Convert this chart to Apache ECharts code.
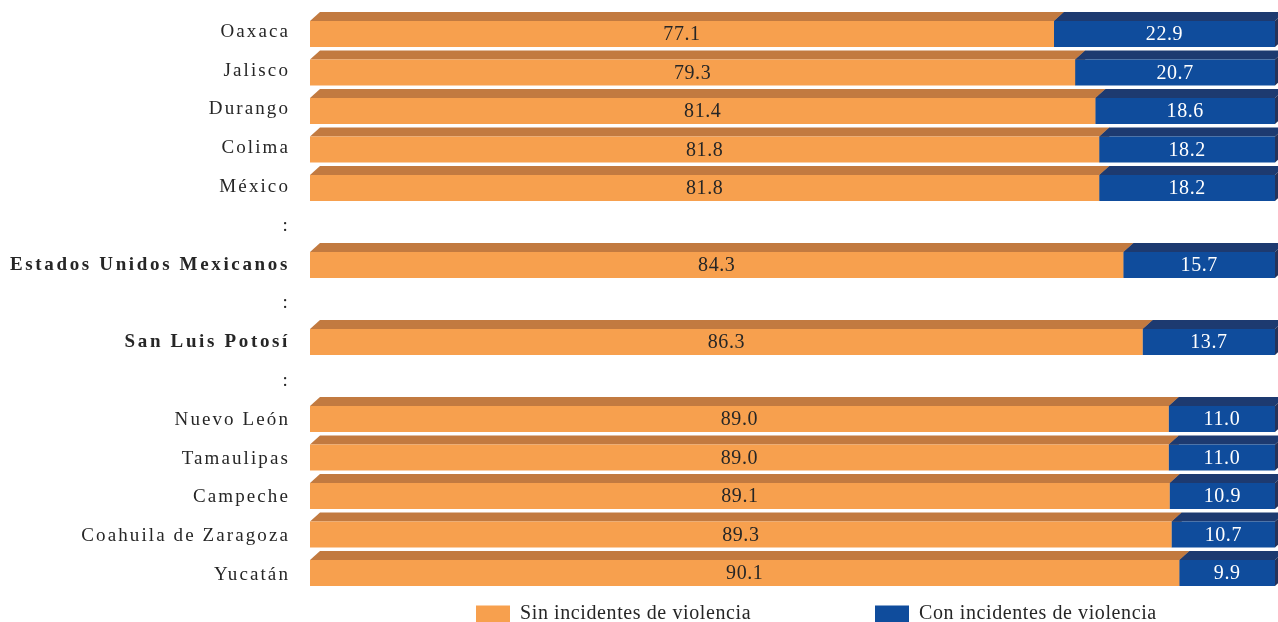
<!DOCTYPE html>
<html>
<head>
<meta charset="utf-8">
<script src="https://cdn.jsdelivr.net/npm/echarts@6/dist/echarts.min.js"></script>
<style>
  html, body { margin: 0; padding: 0; background: #fff; }
  #chart { width: 1278px; height: 622px; }
</style>
</head>
<body>
<div id="chart"></div>
<script>
// Entidades federativas (":" marks skipped rows)
const categories = [
  'Oaxaca', 'Jalisco', 'Durango', 'Colima', 'México', ':',
  'Estados Unidos Mexicanos', ':', 'San Luis Potosí', ':',
  'Nuevo León', 'Tamaulipas', 'Campeche', 'Coahuila de Zaragoza', 'Yucatán'
];
const boldCategories = ['Estados Unidos Mexicanos', 'San Luis Potosí'];

// Percentages
const sinViolencia = [77.1, 79.3, 81.4, 81.8, 81.8, null, 84.3, null, 86.3, null, 89.0, 89.0, 89.1, 89.3, 90.1];
const conViolencia = [22.9, 20.7, 18.6, 18.2, 18.2, null, 15.7, null, 13.7, null, 11.0, 11.0, 10.9, 10.7, 9.9];

const seriesNames = ['Sin incidentes de violencia', 'Con incidentes de violencia'];

const FONT = '"Liberation Serif", "Times New Roman", serif';

// Tracking for the typeset look: row labels are set wider than values/legend
function trackingFor(font) {
  if (/\b19px\b/.test(font)) return /bold/.test(font) ? '2.65px' : '2.1px';
  if (/\b20px\b/.test(font)) return '0.6px';
  return '0px';
}
(function () {
  const proto = CanvasRenderingContext2D.prototype;
  if (!('letterSpacing' in proto)) return;
  const fill = proto.fillText;
  proto.fillText = function () {
    this.letterSpacing = trackingFor(this.font || '');
    return fill.apply(this, arguments);
  };
})();

const palettes = [
  { front: '#F7A04E', top: '#C27A40', side: '#A8652F', text: '#262626' },
  { front: '#0F4C9C', top: '#1D3A70', side: '#25335A', text: '#ffffff' }
];

const BAR_TOTAL = 35;  // top face + front face height
const BAR_DEPTH = 9;   // height of the slanted top face
const BAR_DX = 10;     // horizontal shift of the back edge

// 3D bar segment: front face, slanted top face, right side face, value text
function makeRenderer(pal) {
  return function (params, api) {
    const cat = api.value(0);
    const start = api.value(1);
    const end = api.value(2);
    const val = api.value(3);
    if (val == null || isNaN(end)) return;
    const p0 = api.coord([start, cat]);
    const p1 = api.coord([end, cat]);
    const yTop = p0[1] - BAR_TOTAL / 2;
    const yFront = yTop + BAR_DEPTH;
    const yBottom = p0[1] + BAR_TOTAL / 2;
    const x0 = p0[0], x1 = p1[0];
    return {
      type: 'group',
      children: [
        {
          type: 'polygon',
          shape: { points: [[x0, yFront], [x0 + BAR_DX, yTop], [x1 + BAR_DX, yTop], [x1, yFront]] },
          style: { fill: pal.top }
        },
        {
          type: 'polygon',
          shape: { points: [[x1, yFront], [x1 + BAR_DX, yTop], [x1 + BAR_DX, yBottom - BAR_DEPTH], [x1, yBottom]] },
          style: { fill: pal.side }
        },
        {
          type: 'rect',
          shape: { x: x0, y: yFront, width: x1 - x0, height: yBottom - yFront },
          style: { fill: pal.front }
        },
        {
          type: 'text',
          x: (x0 + x1) / 2,
          y: (yFront + yBottom) / 2 + 1,
          style: {
            text: val.toFixed(1),
            fill: pal.text,
            font: '20px ' + FONT,
            align: 'center',
            verticalAlign: 'middle'
          }
        }
      ]
    };
  };
}

const sinData = categories.map((c, i) => [i, 0, sinViolencia[i], sinViolencia[i]]);
const conData = categories.map((c, i) => [
  i,
  sinViolencia[i],
  sinViolencia[i] == null ? null : sinViolencia[i] + conViolencia[i],
  conViolencia[i]
]);

const chart = echarts.init(document.getElementById('chart'), null, { renderer: 'canvas' });

const legendText = { fontFamily: FONT, fontSize: 20, lineHeight: 17, color: '#262626', padding: [0, 0, 0, 5] };

chart.setOption({
  animation: false,
  backgroundColor: '#ffffff',
  grid: [
    // bars
    { left: 310, right: 3, top: 10.25, bottom: 34.25 },
    // row labels
    { left: 310, right: 3, top: 12.5, bottom: 27.5 }
  ],
  xAxis: [
    { type: 'value', min: 0, max: 100, show: false, gridIndex: 0 },
    { type: 'value', min: 0, max: 100, show: false, gridIndex: 1 }
  ],
  yAxis: [
    {
      type: 'category', data: categories, inverse: true, gridIndex: 0,
      axisLine: { show: false }, axisTick: { show: false },
      splitLine: { show: false }, axisLabel: { show: false }
    },
    {
      type: 'category', data: categories, inverse: true, gridIndex: 1,
      axisLine: { show: false }, axisTick: { show: false }, splitLine: { show: false },
      axisLabel: {
        margin: 20,
        fontFamily: FONT,
        fontSize: 19,
        color: '#262626',
        formatter: v => boldCategories.includes(v) ? '{b|' + v + '}' : v,
        rich: {
          b: { fontFamily: FONT, fontSize: 19, fontWeight: 'bold', color: '#262626' }
        }
      }
    }
  ],
  legend: [
    {
      left: 476, top: 604, padding: 0, itemWidth: 34, itemHeight: 17, icon: 'rect',
      textStyle: legendText, data: [seriesNames[0]]
    },
    {
      left: 875, top: 604, padding: 0, itemWidth: 34, itemHeight: 17, icon: 'rect',
      textStyle: legendText, data: [seriesNames[1]]
    }
  ],
  series: [
    {
      name: seriesNames[0],
      type: 'custom',
      xAxisIndex: 0, yAxisIndex: 0,
      renderItem: makeRenderer(palettes[0]),
      itemStyle: { color: palettes[0].front },
      encode: { x: [1, 2], y: 0 },
      data: sinData
    },
    {
      name: seriesNames[1],
      type: 'custom',
      xAxisIndex: 0, yAxisIndex: 0,
      renderItem: makeRenderer(palettes[1]),
      itemStyle: { color: palettes[1].front },
      encode: { x: [1, 2], y: 0 },
      data: conData
    }
  ]
});
</script>
</body>
</html>
